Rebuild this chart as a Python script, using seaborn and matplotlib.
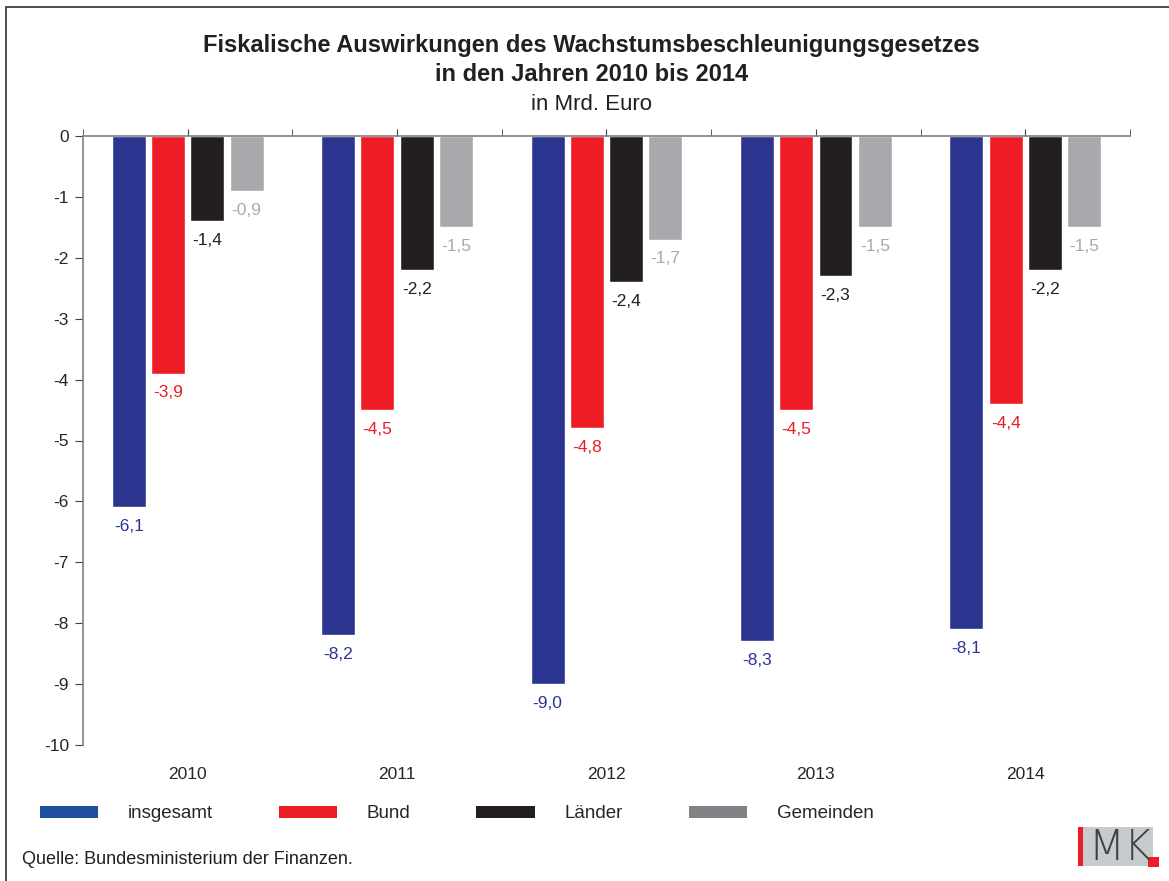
import pandas as pd
import matplotlib.pyplot as plt
import seaborn as sns
from matplotlib.patches import Patch, Rectangle

# Daten (Mrd. Euro)
jahre = ['2010', '2011', '2012', '2013', '2014']
ebenen = ['insgesamt', 'Bund', 'Länder', 'Gemeinden']
insgesamt = [-6.1, -8.2, -9.0, -8.3, -8.1]
bund = [-3.9, -4.5, -4.8, -4.5, -4.4]
laender = [-1.4, -2.2, -2.4, -2.3, -2.2]
gemeinden = [-0.9, -1.5, -1.7, -1.5, -1.5]

bar_farben = ['#2B3590', '#EE1C25', '#231F20', '#A7A9AC']
legend_farben = ['#1F4FA0', '#EE1C25', '#231F20', '#808285']
label_farben = ['#2B3590', '#EE1C25', '#231F20', '#A7A9AC']

df = pd.DataFrame({
    'jahr': jahre * 4,
    'ebene': [e for e in ebenen for _ in jahre],
    'wert': insgesamt + bund + laender + gemeinden,
})

sns.set_style('white')
plt.rcParams['font.family'] = ['Liberation Sans', 'DejaVu Sans']

fig = plt.figure(figsize=(11.69, 8.81), dpi=100)
ax = fig.add_axes([0.071, 0.1544, 0.8956, 0.6912])

sns.barplot(data=df, x='jahr', y='wert', hue='ebene', hue_order=ebenen,
            palette=bar_farben, width=0.75, gap=0.135, saturation=1,
            errorbar=None, ax=ax, legend=False)

# Werte unter den Balken
for cont, farbe in zip(ax.containers, label_farben):
    labels = [f'{b.get_height():.1f}'.replace('.', ',') for b in cont]
    ax.bar_label(cont, labels=labels, padding=8.5, color=farbe, fontsize=12.5)

ax.set_ylim(-10, 0)
ax.set_xlim(-0.5, 4.5)
ax.set_yticks(range(-10, 1))
ax.set_yticklabels([str(v) for v in range(-10, 1)])
ax.set_xticks(range(5))
ax.set_xticks([i - 0.5 for i in range(6)], minor=True)
ax.set_xlabel('')
ax.set_ylabel('')

for s in ['bottom', 'right']:
    ax.spines[s].set_visible(False)
for s in ['top', 'left']:
    ax.spines[s].set_color('#808080')
    ax.spines[s].set_linewidth(1.2)

ax.tick_params(axis='x', which='both', top=True, bottom=False,
               labeltop=False, labelbottom=True, direction='out',
               length=5, color='#404040', pad=11, labelsize=12.5)
ax.tick_params(axis='y', left=True, direction='out', length=6,
               color='#404040', pad=4, labelsize=12.5)

# Titel
fig.text(0.506, 0.948, 'Fiskalische Auswirkungen des Wachstumsbeschleunigungsgesetzes',
         ha='center', va='center', fontsize=17, fontweight='bold', color='#231F20')
fig.text(0.506, 0.915, 'in den Jahren 2010 bis 2014',
         ha='center', va='center', fontsize=17, fontweight='bold', color='#231F20')
fig.text(0.506, 0.881, 'in Mrd. Euro', ha='center', va='center',
         fontsize=16, color='#231F20')

# Legende
handles = [Patch(facecolor=c, edgecolor='none') for c in legend_farben]
fig.legend(handles, ebenen, loc='center left', bbox_to_anchor=(40 / 1169, 1 - 814 / 881),
           ncol=4, frameon=False, fontsize=13.5, handlelength=3.1, handleheight=0.6,
           handletextpad=1.6, columnspacing=3.5, borderpad=0, borderaxespad=0)

fig.text(22 / 1169, 1 - 860 / 881, 'Quelle: Bundesministerium der Finanzen.',
         ha='left', va='center', fontsize=13, color='#231F20')

# Rahmen
fig.patches.append(Rectangle((6 / 1169, -0.1), 1.2, 1.1 - 7 / 881, transform=fig.transFigure,
                             fill=False, edgecolor='#404040', linewidth=1.3))

# IMK Logo
fig.patches.append(Rectangle((1078 / 1169, 1 - 866 / 881), 75 / 1169, 39 / 881,
                             transform=fig.transFigure, facecolor='#C8CBCD', edgecolor='none'))
fig.patches.append(Rectangle((1078 / 1169, 1 - 866 / 881), 5 / 1169, 39 / 881,
                             transform=fig.transFigure, facecolor='#EE1C25', edgecolor='none'))
fig.patches.append(Rectangle((1148 / 1169, 1 - 867 / 881), 11 / 1169, 10 / 881,
                             transform=fig.transFigure, facecolor='#EE1C25', edgecolor='none'))
fig.text(1088 / 1169, 1 - 847 / 881, 'MK', ha='left', va='center', fontsize=30,
         color='#414042', family='DejaVu Sans', fontweight='light')

fig.savefig('out.png', dpi=100)
